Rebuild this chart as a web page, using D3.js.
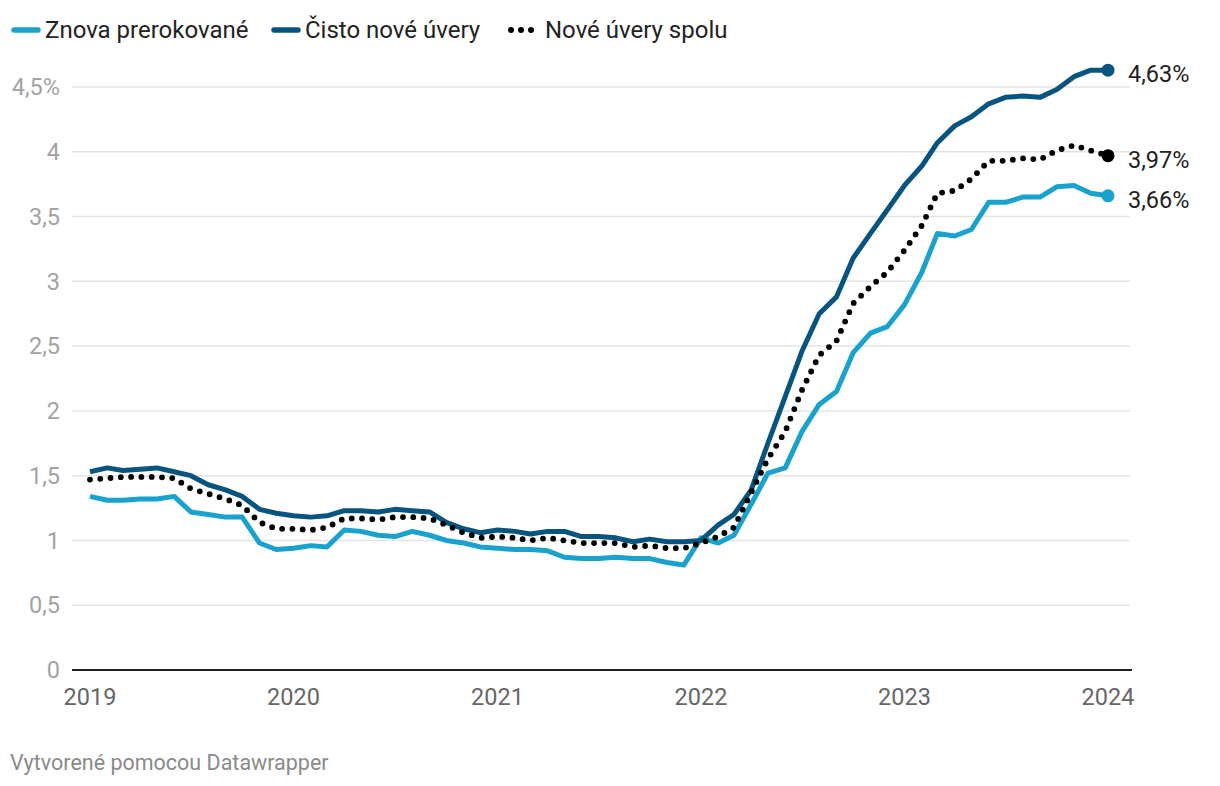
<!DOCTYPE html>
<html>
<head>
<meta charset="utf-8">
<script src="https://cdn.jsdelivr.net/npm/d3@7"></script>
<style>
  html, body { margin: 0; padding: 0; background: #fff; }
  svg { display: block; font-family: Roboto, "Noto Sans", sans-serif; }
</style>
</head>
<body>
<svg id="chart" width="1220" height="786"></svg>
<script>
// monthly values, Jan 2019 .. Jan 2024 (in %)
const startMonth = new Date(2019, 0, 1);
const renegotiated = [1.34,1.31,1.31,1.32,1.32,1.34,1.22,1.20,1.18,1.18,0.98,0.93,0.94,0.96,0.95,1.08,1.07,1.04,1.03,1.07,1.04,1.00,0.98,0.95,0.94,0.93,0.93,0.92,0.87,0.86,0.86,0.87,0.86,0.86,0.83,0.81,1.02,0.98,1.04,1.28,1.52,1.56,1.84,2.05,2.15,2.45,2.60,2.65,2.82,3.07,3.37,3.35,3.40,3.61,3.61,3.65,3.65,3.73,3.74,3.68,3.66];
const pureNew = [1.53,1.56,1.54,1.55,1.56,1.53,1.50,1.43,1.39,1.34,1.24,1.21,1.19,1.18,1.19,1.23,1.23,1.22,1.24,1.23,1.22,1.14,1.09,1.06,1.08,1.07,1.05,1.07,1.07,1.03,1.03,1.02,0.99,1.01,0.99,0.99,1.00,1.12,1.20,1.39,1.75,2.11,2.46,2.75,2.88,3.18,3.37,3.55,3.74,3.89,4.07,4.20,4.27,4.37,4.42,4.43,4.42,4.48,4.58,4.63,4.63];
const totalNew = [1.47,1.48,1.49,1.49,1.49,1.48,1.40,1.36,1.32,1.27,1.14,1.09,1.09,1.08,1.10,1.17,1.17,1.16,1.18,1.18,1.17,1.12,1.06,1.02,1.03,1.02,1.00,1.02,1.00,0.98,0.98,0.98,0.95,0.96,0.94,0.94,0.98,1.03,1.10,1.37,1.63,1.84,2.16,2.43,2.54,2.83,2.96,3.07,3.24,3.43,3.68,3.70,3.79,3.93,3.93,3.95,3.94,4.01,4.05,4.01,3.97];

const seriesNames = ['Znova prerokované', 'Čisto nové úvery', 'Nové úvery spolu'];
const yTicks = [0, 0.5, 1, 1.5, 2, 2.5, 3, 3.5, 4, 4.5];
const xTickYears = [2019, 2020, 2021, 2022, 2023, 2024];

const COLORS = { light: '#1aa2cf', dark: '#07557f', dots: '#000000' };

const svg = d3.select('#chart');

const x = d3.scaleTime()
  .domain([new Date(2019, 0, 1), new Date(2024, 0, 1)])
  .range([90, 1108]);
const y = d3.scaleLinear()
  .domain([0, 4.5])
  .range([670, 87]);

const fmt = v => String(v).replace('.', ',');
const monthDate = i => d3.timeMonth.offset(startMonth, i);

// gridlines
svg.append('g')
  .selectAll('line')
  .data(yTicks.filter(t => t > 0))
  .join('line')
  .attr('x1', 72).attr('x2', 1130)
  .attr('y1', d => y(d)).attr('y2', d => y(d))
  .attr('stroke', '#e3e3e3')
  .attr('stroke-width', 1.5);

// y labels
svg.append('g')
  .selectAll('text')
  .data(yTicks)
  .join('text')
  .attr('x', 60)
  .attr('y', d => y(d))
  .attr('dy', '0.35em')
  .attr('text-anchor', 'end')
  .attr('fill', '#a3a3a3')
  .attr('font-size', 23.5)
  .text(d => d === 4.5 ? '4,5%' : fmt(d));

// baseline
svg.append('line')
  .attr('x1', 72).attr('x2', 1132)
  .attr('y1', y(0)).attr('y2', y(0))
  .attr('stroke', '#222')
  .attr('stroke-width', 2);

// x labels
svg.append('g')
  .selectAll('text')
  .data(xTickYears)
  .join('text')
  .attr('x', d => x(new Date(d, 0, 1)))
  .attr('y', 705)
  .attr('text-anchor', 'middle')
  .attr('fill', '#666')
  .attr('font-size', 23.5)
  .text(d => d);

const line = d3.line()
  .x((d, i) => x(monthDate(i)))
  .y(d => y(d));

svg.append('path')
  .datum(renegotiated)
  .attr('fill', 'none')
  .attr('stroke', COLORS.light)
  .attr('stroke-width', 5)
  .attr('stroke-linejoin', 'round')
  .attr('d', line);

svg.append('path')
  .datum(pureNew)
  .attr('fill', 'none')
  .attr('stroke', COLORS.dark)
  .attr('stroke-width', 5)
  .attr('stroke-linejoin', 'round')
  .attr('d', line);

svg.append('path')
  .datum(totalNew)
  .attr('fill', 'none')
  .attr('stroke', COLORS.dots)
  .attr('stroke-width', 5.8)
  .attr('stroke-linecap', 'round')
  .attr('stroke-dasharray', '0 10.3')
  .attr('d', line);

// end points + value labels
const ends = [
  { values: pureNew, color: COLORS.dark },
  { values: totalNew, color: COLORS.dots },
  { values: renegotiated, color: COLORS.light }
];
const last = renegotiated.length - 1;

svg.append('g')
  .selectAll('circle')
  .data(ends)
  .join('circle')
  .attr('cx', x(monthDate(last)))
  .attr('cy', d => y(d.values[last]))
  .attr('r', 6.5)
  .attr('fill', d => d.color);

svg.append('g')
  .selectAll('text')
  .data(ends)
  .join('text')
  .attr('x', 1128)
  .attr('y', d => y(d.values[last]) + 12)
  .attr('fill', '#222')
  .attr('font-size', 23.5)
  .text(d => fmt(d.values[last].toFixed(2)) + '%');

// legend
const legend = svg.append('g').attr('class', 'legend');
const legendX = [12, 272, 508];

legend.selectAll('line.swatch')
  .data([0, 1])
  .join('line')
  .attr('class', 'swatch')
  .attr('x1', i => legendX[i] + 2).attr('x2', i => legendX[i] + 26)
  .attr('y1', 30).attr('y2', 30)
  .attr('stroke', i => i === 0 ? COLORS.light : COLORS.dark)
  .attr('stroke-width', 5.5)
  .attr('stroke-linecap', 'round');

legend.selectAll('circle')
  .data([0, 1, 2])
  .join('circle')
  .attr('cx', i => legendX[2] + 3 + i * 10)
  .attr('cy', 30)
  .attr('r', 3)
  .attr('fill', '#000');

legend.selectAll('text')
  .data(seriesNames)
  .join('text')
  .attr('x', (d, i) => legendX[i] + (i === 2 ? 37 : 33))
  .attr('y', 38)
  .attr('fill', '#222')
  .attr('font-size', 24)
  .text(d => d);

svg.append('text')
  .attr('x', 10)
  .attr('y', 770)
  .attr('fill', '#8a8a8a')
  .attr('font-size', 21.5)
  .text('Vytvorené pomocou Datawrapper');
</script>
</body>
</html>
